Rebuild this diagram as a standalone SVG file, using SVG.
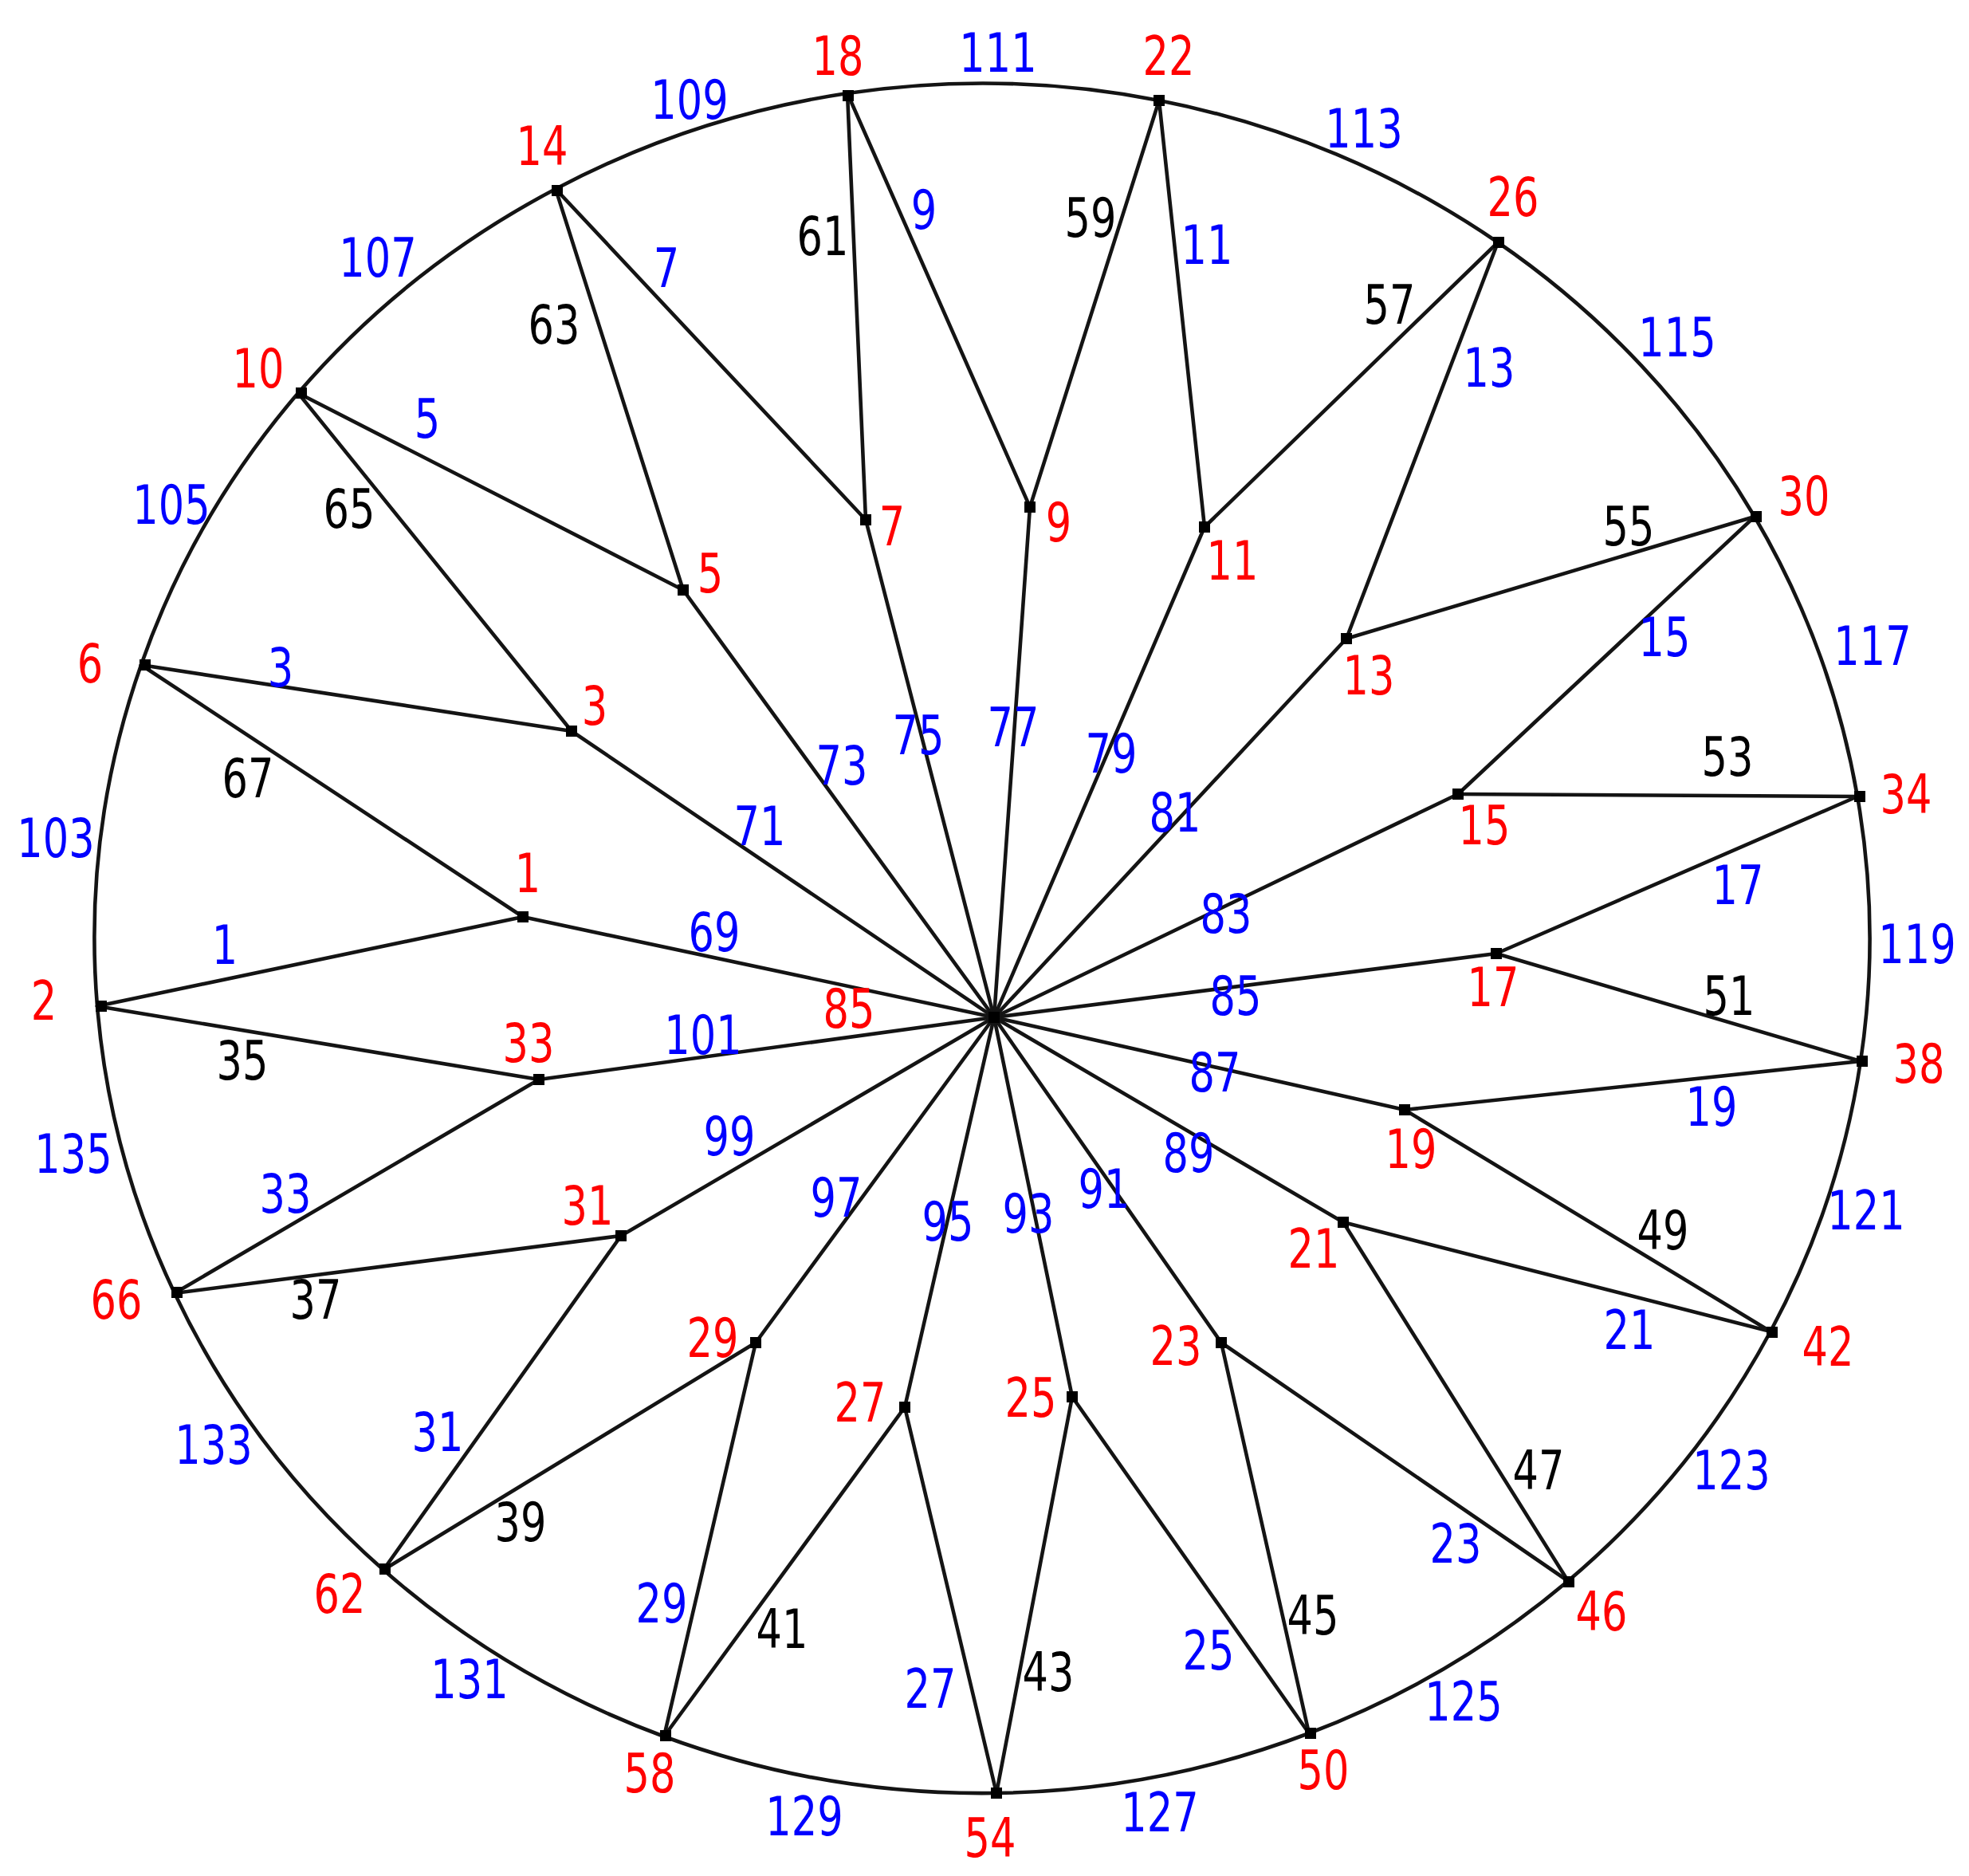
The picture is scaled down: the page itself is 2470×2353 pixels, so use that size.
<svg xmlns="http://www.w3.org/2000/svg" width="2470" height="2353" viewBox="0 0 2470 2353">
<style>
text{font-family:"DejaVu Sans","Liberation Sans",sans-serif;font-size:68px;text-anchor:middle}
.r{fill:#ff0000}.b{fill:#0000ff}.k{fill:#000000}
.e{stroke:#141414;stroke-width:4.6;fill:none;stroke-linecap:round}
.d{fill:#000}
</style>
<rect width="2470" height="2353" fill="#fff"/>
<g id="connectors">
<g id="ring">
<path class="e" d="M122 1262A1114 1072 0 0 1 177 834"/>
<path class="e" d="M177 834A1114 1072 0 0 1 374 493"/>
<path class="e" d="M374 493A1114 1072 0 0 1 697 237"/>
<path class="e" d="M697 237A1114 1072 0 0 1 1063 117"/>
<path class="e" d="M1063 117A1114 1072 0 0 1 1454 126"/>
<path class="e" d="M1454 126A1114 1072 0 0 1 1879 304"/>
<path class="e" d="M1879 304A1114 1072 0 0 1 2201 648"/>
<path class="e" d="M2201 648A1114 1072 0 0 1 2330 999"/>
<path class="e" d="M2330 999A1114 1072 0 0 1 2334 1331"/>
<path class="e" d="M2334 1331A1114 1072 0 0 1 2221 1670"/>
<path class="e" d="M2221 1670A1114 1072 0 0 1 1967 1983"/>
<path class="e" d="M1967 1983A1114 1072 0 0 1 1642 2174"/>
<path class="e" d="M1642 2174A1114 1072 0 0 1 1250 2249"/>
<path class="e" d="M1250 2249A1114 1072 0 0 1 833 2178"/>
<path class="e" d="M833 2178A1114 1072 0 0 1 481 1969"/>
<path class="e" d="M481 1969A1114 1072 0 0 1 219 1622"/>
<path class="e" d="M219 1622A1114 1072 0 0 1 122 1262"/>
</g>
<g id="spokes">
<line class="e" x1="1247" y1="1276" x2="656" y2="1150"/>
<line class="e" x1="1247" y1="1276" x2="717" y2="917"/>
<line class="e" x1="1247" y1="1276" x2="857" y2="740"/>
<line class="e" x1="1247" y1="1276" x2="1086" y2="652"/>
<line class="e" x1="1247" y1="1276" x2="1292" y2="636"/>
<line class="e" x1="1247" y1="1276" x2="1511" y2="661"/>
<line class="e" x1="1247" y1="1276" x2="1689" y2="801"/>
<line class="e" x1="1247" y1="1276" x2="1829" y2="996"/>
<line class="e" x1="1247" y1="1276" x2="1877" y2="1196"/>
<line class="e" x1="1247" y1="1276" x2="1762" y2="1392"/>
<line class="e" x1="1247" y1="1276" x2="1685" y2="1533"/>
<line class="e" x1="1247" y1="1276" x2="1532" y2="1684"/>
<line class="e" x1="1247" y1="1276" x2="1345" y2="1752"/>
<line class="e" x1="1247" y1="1276" x2="1135" y2="1765"/>
<line class="e" x1="1247" y1="1276" x2="948" y2="1684"/>
<line class="e" x1="1247" y1="1276" x2="779" y2="1550"/>
<line class="e" x1="1247" y1="1276" x2="676" y2="1354"/>
</g>
<g id="links">
<line class="e" x1="656" y1="1150" x2="122" y2="1262"/>
<line class="e" x1="656" y1="1150" x2="177" y2="834"/>
<line class="e" x1="717" y1="917" x2="177" y2="834"/>
<line class="e" x1="717" y1="917" x2="374" y2="493"/>
<line class="e" x1="857" y1="740" x2="374" y2="493"/>
<line class="e" x1="857" y1="740" x2="697" y2="237"/>
<line class="e" x1="1086" y1="652" x2="697" y2="237"/>
<line class="e" x1="1086" y1="652" x2="1063" y2="117"/>
<line class="e" x1="1292" y1="636" x2="1063" y2="117"/>
<line class="e" x1="1292" y1="636" x2="1454" y2="126"/>
<line class="e" x1="1511" y1="661" x2="1454" y2="126"/>
<line class="e" x1="1511" y1="661" x2="1879" y2="304"/>
<line class="e" x1="1689" y1="801" x2="1879" y2="304"/>
<line class="e" x1="1689" y1="801" x2="2201" y2="648"/>
<line class="e" x1="1829" y1="996" x2="2201" y2="648"/>
<line class="e" x1="1829" y1="996" x2="2330" y2="999"/>
<line class="e" x1="1877" y1="1196" x2="2330" y2="999"/>
<line class="e" x1="1877" y1="1196" x2="2334" y2="1331"/>
<line class="e" x1="1762" y1="1392" x2="2334" y2="1331"/>
<line class="e" x1="1762" y1="1392" x2="2221" y2="1670"/>
<line class="e" x1="1685" y1="1533" x2="2221" y2="1670"/>
<line class="e" x1="1685" y1="1533" x2="1967" y2="1983"/>
<line class="e" x1="1532" y1="1684" x2="1967" y2="1983"/>
<line class="e" x1="1532" y1="1684" x2="1642" y2="2174"/>
<line class="e" x1="1345" y1="1752" x2="1642" y2="2174"/>
<line class="e" x1="1345" y1="1752" x2="1250" y2="2249"/>
<line class="e" x1="1135" y1="1765" x2="1250" y2="2249"/>
<line class="e" x1="1135" y1="1765" x2="833" y2="2178"/>
<line class="e" x1="948" y1="1684" x2="833" y2="2178"/>
<line class="e" x1="948" y1="1684" x2="481" y2="1969"/>
<line class="e" x1="779" y1="1550" x2="481" y2="1969"/>
<line class="e" x1="779" y1="1550" x2="219" y2="1622"/>
<line class="e" x1="676" y1="1354" x2="219" y2="1622"/>
<line class="e" x1="676" y1="1354" x2="122" y2="1262"/>
</g>
<g id="edge-labels">
<text class="b" transform="translate(282 1209) scale(.75 1)">1</text>
<text class="b" transform="translate(352 861) scale(.75 1)">3</text>
<text class="b" transform="translate(536 549) scale(.75 1)">5</text>
<text class="b" transform="translate(836 360) scale(.75 1)">7</text>
<text class="b" transform="translate(1159 287) scale(.75 1)">9</text>
<text class="b" transform="translate(1514 331) scale(.75 1)">11</text>
<text class="b" transform="translate(1868 485) scale(.75 1)">13</text>
<text class="b" transform="translate(2088 823) scale(.75 1)">15</text>
<text class="b" transform="translate(2180 1134) scale(.75 1)">17</text>
<text class="b" transform="translate(2147 1412) scale(.75 1)">19</text>
<text class="b" transform="translate(2044 1692) scale(.75 1)">21</text>
<text class="b" transform="translate(1826 1960) scale(.75 1)">23</text>
<text class="b" transform="translate(1516 2094) scale(.75 1)">25</text>
<text class="b" transform="translate(1167 2142) scale(.75 1)">27</text>
<text class="b" transform="translate(830 2035) scale(.75 1)">29</text>
<text class="b" transform="translate(549 1820) scale(.75 1)">31</text>
<text class="b" transform="translate(358 1521) scale(.75 1)">33</text>
<text class="k" transform="translate(304 1354) scale(.75 1)">35</text>
<text class="k" transform="translate(396 1654) scale(.75 1)">37</text>
<text class="k" transform="translate(653 1933) scale(.75 1)">39</text>
<text class="k" transform="translate(981 2067) scale(.75 1)">41</text>
<text class="k" transform="translate(1315 2121) scale(.75 1)">43</text>
<text class="k" transform="translate(1647 2050) scale(.75 1)">45</text>
<text class="k" transform="translate(1930 1868) scale(.75 1)">47</text>
<text class="k" transform="translate(2086 1567) scale(.75 1)">49</text>
<text class="k" transform="translate(2169 1273) scale(.75 1)">51</text>
<text class="k" transform="translate(2167 973) scale(.75 1)">53</text>
<text class="k" transform="translate(2043 684) scale(.75 1)">55</text>
<text class="k" transform="translate(1743 406) scale(.75 1)">57</text>
<text class="k" transform="translate(1368 297) scale(.75 1)">59</text>
<text class="k" transform="translate(1032 320) scale(.75 1)">61</text>
<text class="k" transform="translate(695 431) scale(.75 1)">63</text>
<text class="k" transform="translate(438 662) scale(.75 1)">65</text>
<text class="k" transform="translate(311 1000) scale(.75 1)">67</text>
<text class="b" transform="translate(896 1193) scale(.75 1)">69</text>
<text class="b" transform="translate(953 1060) scale(.75 1)">71</text>
<text class="b" transform="translate(1056 984) scale(.75 1)">73</text>
<text class="b" transform="translate(1152 946) scale(.75 1)">75</text>
<text class="b" transform="translate(1271 936) scale(.75 1)">77</text>
<text class="b" transform="translate(1394 969) scale(.75 1)">79</text>
<text class="b" transform="translate(1474 1043) scale(.75 1)">81</text>
<text class="b" transform="translate(1538 1170) scale(.75 1)">83</text>
<text class="b" transform="translate(1550 1273) scale(.75 1)">85</text>
<text class="b" transform="translate(1524 1369) scale(.75 1)">87</text>
<text class="b" transform="translate(1491 1470) scale(.75 1)">89</text>
<text class="b" transform="translate(1385 1515) scale(.75 1)">91</text>
<text class="b" transform="translate(1290 1546) scale(.75 1)">93</text>
<text class="b" transform="translate(1189 1556) scale(.75 1)">95</text>
<text class="b" transform="translate(1049 1526) scale(.75 1)">97</text>
<text class="b" transform="translate(915 1449) scale(.75 1)">99</text>
<text class="b" transform="translate(882 1322) scale(.75 1)">101</text>
<text class="b" transform="translate(70 1075) scale(.75 1)">103</text>
<text class="b" transform="translate(215 657) scale(.75 1)">105</text>
<text class="b" transform="translate(474 347) scale(.75 1)">107</text>
<text class="b" transform="translate(865 149) scale(.75 1)">109</text>
<text class="b" transform="translate(1252 90) scale(.75 1)">111</text>
<text class="b" transform="translate(1711 185) scale(.75 1)">113</text>
<text class="b" transform="translate(2104 447) scale(.75 1)">115</text>
<text class="b" transform="translate(2349 834) scale(.75 1)">117</text>
<text class="b" transform="translate(2405 1208) scale(.75 1)">119</text>
<text class="b" transform="translate(2341 1542) scale(.75 1)">121</text>
<text class="b" transform="translate(2172 1868) scale(.75 1)">123</text>
<text class="b" transform="translate(1836 2158) scale(.75 1)">125</text>
<text class="b" transform="translate(1455 2297) scale(.75 1)">127</text>
<text class="b" transform="translate(1009 2302) scale(.75 1)">129</text>
<text class="b" transform="translate(589 2130) scale(.75 1)">131</text>
<text class="b" transform="translate(268 1836) scale(.75 1)">133</text>
<text class="b" transform="translate(92 1471) scale(.75 1)">135</text>
</g>
</g>
<g id="node-85"><rect class="d" x="1240" y="1269" width="14" height="14"/><text class="r" transform="translate(1065 1289) scale(.75 1)">85</text></g>
<g id="node-1"><rect class="d" x="649" y="1143" width="14" height="14"/><text class="r" transform="translate(662 1119) scale(.75 1)">1</text></g>
<g id="node-3"><rect class="d" x="710" y="910" width="14" height="14"/><text class="r" transform="translate(746 909) scale(.75 1)">3</text></g>
<g id="node-5"><rect class="d" x="850" y="733" width="14" height="14"/><text class="r" transform="translate(891 743) scale(.75 1)">5</text></g>
<g id="node-7"><rect class="d" x="1079" y="645" width="14" height="14"/><text class="r" transform="translate(1119 684) scale(.75 1)">7</text></g>
<g id="node-9"><rect class="d" x="1285" y="629" width="14" height="14"/><text class="r" transform="translate(1328 679) scale(.75 1)">9</text></g>
<g id="node-11"><rect class="d" x="1504" y="654" width="14" height="14"/><text class="r" transform="translate(1546 727) scale(.75 1)">11</text></g>
<g id="node-13"><rect class="d" x="1682" y="794" width="14" height="14"/><text class="r" transform="translate(1717 871) scale(.75 1)">13</text></g>
<g id="node-15"><rect class="d" x="1822" y="989" width="14" height="14"/><text class="r" transform="translate(1862 1059) scale(.75 1)">15</text></g>
<g id="node-17"><rect class="d" x="1870" y="1189" width="14" height="14"/><text class="r" transform="translate(1873 1262) scale(.75 1)">17</text></g>
<g id="node-19"><rect class="d" x="1755" y="1385" width="14" height="14"/><text class="r" transform="translate(1770 1465) scale(.75 1)">19</text></g>
<g id="node-21"><rect class="d" x="1678" y="1526" width="14" height="14"/><text class="r" transform="translate(1648 1590) scale(.75 1)">21</text></g>
<g id="node-23"><rect class="d" x="1525" y="1677" width="14" height="14"/><text class="r" transform="translate(1475 1712) scale(.75 1)">23</text></g>
<g id="node-25"><rect class="d" x="1338" y="1745" width="14" height="14"/><text class="r" transform="translate(1293 1777) scale(.75 1)">25</text></g>
<g id="node-27"><rect class="d" x="1128" y="1758" width="14" height="14"/><text class="r" transform="translate(1079 1783) scale(.75 1)">27</text></g>
<g id="node-29"><rect class="d" x="941" y="1677" width="14" height="14"/><text class="r" transform="translate(894 1702) scale(.75 1)">29</text></g>
<g id="node-31"><rect class="d" x="772" y="1543" width="14" height="14"/><text class="r" transform="translate(737 1536) scale(.75 1)">31</text></g>
<g id="node-33"><rect class="d" x="669" y="1347" width="14" height="14"/><text class="r" transform="translate(663 1332) scale(.75 1)">33</text></g>
<g id="node-2"><rect class="d" x="120" y="1255" width="14" height="14"/><text class="r" transform="translate(55 1279) scale(.75 1)">2</text></g>
<g id="node-6"><rect class="d" x="175" y="827" width="14" height="14"/><text class="r" transform="translate(113 856) scale(.75 1)">6</text></g>
<g id="node-10"><rect class="d" x="371" y="486" width="14" height="14"/><text class="r" transform="translate(324 486) scale(.75 1)">10</text></g>
<g id="node-14"><rect class="d" x="692" y="232" width="14" height="14"/><text class="r" transform="translate(680 207) scale(.75 1)">14</text></g>
<g id="node-18"><rect class="d" x="1057" y="113" width="14" height="14"/><text class="r" transform="translate(1051 94) scale(.75 1)">18</text></g>
<g id="node-22"><rect class="d" x="1447" y="119" width="14" height="14"/><text class="r" transform="translate(1466 94) scale(.75 1)">22</text></g>
<g id="node-26"><rect class="d" x="1873" y="297" width="14" height="14"/><text class="r" transform="translate(1898 271) scale(.75 1)">26</text></g>
<g id="node-30"><rect class="d" x="2196" y="641" width="14" height="14"/><text class="r" transform="translate(2263 646) scale(.75 1)">30</text></g>
<g id="node-34"><rect class="d" x="2326" y="992" width="14" height="14"/><text class="r" transform="translate(2391 1020) scale(.75 1)">34</text></g>
<g id="node-38"><rect class="d" x="2329" y="1324" width="14" height="14"/><text class="r" transform="translate(2407 1358) scale(.75 1)">38</text></g>
<g id="node-42"><rect class="d" x="2216" y="1664" width="14" height="14"/><text class="r" transform="translate(2293 1713) scale(.75 1)">42</text></g>
<g id="node-46"><rect class="d" x="1961" y="1977" width="14" height="14"/><text class="r" transform="translate(2009 2045) scale(.75 1)">46</text></g>
<g id="node-50"><rect class="d" x="1637" y="2167" width="14" height="14"/><text class="r" transform="translate(1660 2244) scale(.75 1)">50</text></g>
<g id="node-54"><rect class="d" x="1243" y="2242" width="14" height="14"/><text class="r" transform="translate(1242 2329) scale(.75 1)">54</text></g>
<g id="node-58"><rect class="d" x="828" y="2170" width="14" height="14"/><text class="r" transform="translate(815 2248) scale(.75 1)">58</text></g>
<g id="node-62"><rect class="d" x="476" y="1961" width="14" height="14"/><text class="r" transform="translate(426 2023) scale(.75 1)">62</text></g>
<g id="node-66"><rect class="d" x="215" y="1614" width="14" height="14"/><text class="r" transform="translate(146 1654) scale(.75 1)">66</text></g>
</svg>
